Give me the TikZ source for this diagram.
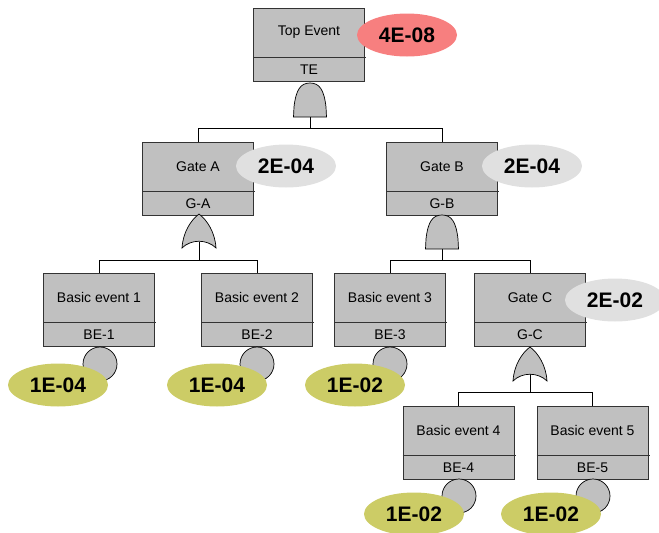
\documentclass[tikz,border=0pt]{standalone}
\usepackage{fontspec}
\setmainfont{Liberation Sans}
\usetikzlibrary{shapes.geometric}

\definecolor{boxgray}{HTML}{C0C0C0}
\definecolor{boxline}{HTML}{333333}
\definecolor{topred}{HTML}{F77F7F}
\definecolor{gatepale}{HTML}{E0E0E0}
\definecolor{basicolive}{HTML}{CCCC66}

\tikzset{
  evbox/.style={draw=boxline, fill=boxgray, line width=0.8pt,
    minimum width=111pt, minimum height=73pt, inner sep=0pt},
  divider/.style={draw=boxline, line width=0.8pt},
  boxtext/.style={font=\fontsize{14}{16}\selectfont, inner sep=0pt},
  prob/.style={ellipse, minimum width=100pt, minimum height=43pt, inner sep=0pt,
    font=\fontsize{21}{24}\selectfont\bfseries},
  wire/.style={draw=black, line width=0.7pt},
  gatebody/.style={fill=boxgray, draw=black, line width=0.7pt},
  basicev/.style={circle, draw=black, fill=boxgray, line width=0.7pt,
    minimum size=34pt, inner sep=0pt},
  andgate/.pic={
    \path[gatebody] (-16.5,34) -- (-16,24) .. controls (-14,6) and (-9,0) .. (0,0)
      .. controls (9,0) and (14,6) .. (16,24) -- (16.5,34) -- cycle;
  },
  orgate/.pic={
    \path[gatebody] (-17,34) .. controls (-16,18) and (-8,6) .. (0,0)
      .. controls (8,6) and (16,18) .. (17,34)
      .. controls (8,25) and (-8,25) .. (-17,34) -- cycle;
  }
}

% event box: name, centre x, top y, title, identifier
\newcommand\eventbox[5]{%
  \node[evbox] (#1) at (#2,#3+36.5) {};
  \draw[divider] ([yshift=-50pt]#1.north west) -- ++(113,0);
  \node[boxtext] (#1-t) at ([yshift=-25pt]#1.north) {#4};
  \node[boxtext] (#1-i) at ([yshift=11.5pt]#1.south) {#5};
}

\begin{document}
\begin{tikzpicture}[x=1pt, y=-1pt]
\useasboundingbox (0,0) rectangle (659,533);

% ---- top event
\eventbox{TE}{309}{8}{Top Event}{TE}
\pic at (310,83) {andgate};
\coordinate (gTE) at (310,117);
\coordinate (busTE) at (310,128);
\node[prob, fill=topred] (pTE) at (407,35) {4E-08};

% ---- gates A and B
\eventbox{GA}{198}{142}{Gate A}{G-A}
\eventbox{GB}{442}{142}{Gate B}{G-B}
\draw[wire] (gTE) -- (busTE) -| (GA.north);
\draw[wire] (busTE) -| (GB.north);
\node[prob, fill=gatepale] (pGA) at (286,166) {2E-04};
\node[prob, fill=gatepale] (pGB) at (532,166) {2E-04};

\coordinate (gA) at (199,242);
\coordinate (busA) at (199,260);
\coordinate (gB) at (442,248);
\coordinate (busB) at (442,260);

% ---- second row
\eventbox{BE1}{99}{273}{Basic event 1}{BE-1}
\eventbox{BE2}{257}{273}{Basic event 2}{BE-2}
\eventbox{BE3}{390}{273}{Basic event 3}{BE-3}
\eventbox{GC}{530}{273}{Gate C}{G-C}

\draw[wire] (gA) -- (busA) -| (BE1.north);
\draw[wire] (busA) -| (BE2.north);
\draw[wire] (gB) -- (busB) -| (BE3.north);
\draw[wire] (busB) -| (GC.north);
\pic at (199,214) {orgate};
\pic at (442,215) {andgate};

\node[prob, fill=gatepale] (pGC) at (615,300) {2E-02};

\node[basicev] (c1) at (100,364) {};
\node[basicev] (c2) at (257,364) {};
\node[basicev] (c3) at (390,364) {};
\node[prob, fill=basicolive] (p1) at (58,385) {1E-04};
\node[prob, fill=basicolive] (p2) at (217,385) {1E-04};
\node[prob, fill=basicolive] (p3) at (355,385) {1E-02};

% ---- third row
\coordinate (gC) at (530,374);
\coordinate (busC) at (530,392);
\eventbox{BE4}{458.5}{406}{Basic event 4}{BE-4}
\eventbox{BE5}{592.5}{406}{Basic event 5}{BE-5}
\draw[wire] (gC) -- (busC) -| (BE4.north);
\draw[wire] (busC) -| (BE5.north);
\pic at (530,347) {orgate};

\node[basicev] (c4) at (459,496) {};
\node[basicev] (c5) at (593,496) {};
\node[prob, fill=basicolive] (p4) at (414,514) {1E-02};
\node[prob, fill=basicolive] (p5) at (551,514) {1E-02};
\end{tikzpicture}
\end{document}
